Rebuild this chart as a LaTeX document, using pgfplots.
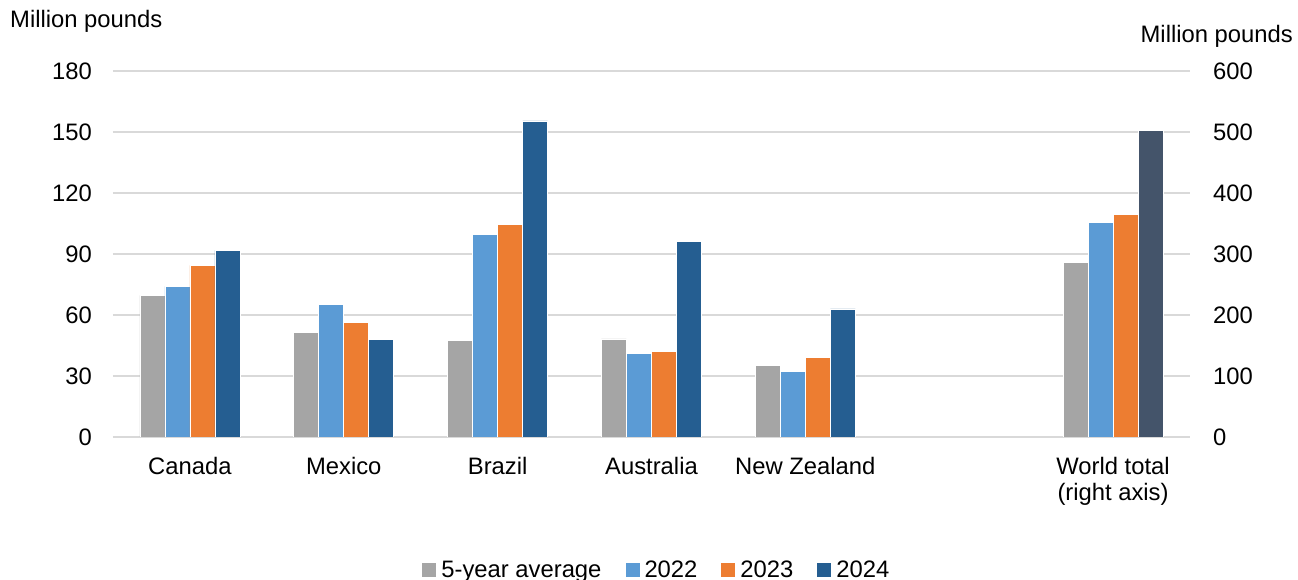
\documentclass[border=0pt]{standalone}
\usepackage{pgfplots}
\pgfplotsset{compat=1.18}
\usepackage{fontspec}
\setmainfont{Liberation Sans}
\definecolor{cgray}{HTML}{A5A5A5}
\definecolor{clblue}{HTML}{5B9BD5}
\definecolor{corange}{HTML}{ED7D31}
\definecolor{cdblue}{HTML}{255E91}
\definecolor{cslate}{HTML}{44546A}
\definecolor{gridc}{HTML}{D9D9D9}
\newcommand{\chartfont}{\fontsize{23.8}{26}\selectfont}
\pgfplotsset{
  common/.style={
    scale only axis, width=1077pt, height=366pt,
    at={(0,0)}, anchor=south west,
    xmin=-0.5, xmax=6.5,
    ybar=0pt, bar width=25pt,
    axis line style={draw=none},
    major tick length=0pt,
    font=\chartfont,
    /pgf/number format/assume math mode=true,
    every axis plot/.append style={draw=white, line width=0.6pt},
  }
}
\begin{document}
\begin{tikzpicture}
\begin{axis}[common,
  ymin=0, ymax=180, ytick={0,30,...,180},
  yticklabel pos=left,
  yticklabel style={inner sep=0pt, xshift=-21pt},
  ymajorgrids, grid style={draw=gridc, line width=1.3pt},
  xtick={0,1,2,3,4,6},
  xticklabels={Canada,Mexico,Brazil,Australia,New Zealand,{World total\\(right axis)}},
  xticklabel style={inner sep=0pt, yshift=-20pt, align=center, font=\chartfont},
  legend columns=4,
  legend style={draw=none, at={(0.505,-0.3634)}, anchor=center, font=\chartfont,
    /tikz/every odd column/.append style={column sep=3pt},
    /tikz/every even column/.append style={column sep=22pt}},
  legend image code/.code={\fill[#1, draw=none] (0pt,-7pt) rectangle (14pt,7pt);},
]
\addplot[fill=cgray] coordinates {(0,69.7) (1,51.4) (2,47.6) (3,48.2) (4,35.4)};
\addplot[fill=clblue] coordinates {(0,74.1) (1,65.3) (2,99.7) (3,41.0) (4,32.3)};
\addplot[fill=corange] coordinates {(0,84.4) (1,56.2) (2,104.6) (3,42.2) (4,39.0)};
\addplot[fill=cdblue] coordinates {(0,91.8) (1,47.9) (2,155.5) (3,96.3) (4,63.0)};
\legend{5-year average,2022,2023,2024}
\end{axis}
\begin{axis}[common,
  ymin=0, ymax=600, ytick={0,100,...,600},
  yticklabel pos=right,
  yticklabel style={inner sep=0pt, xshift=23pt},
  xtick=\empty, hide x axis,
]
\addplot[fill=cgray] coordinates {(6,286)};
\addplot[fill=clblue] coordinates {(6,352)};
\addplot[fill=corange] coordinates {(6,365.6)};
\addplot[fill=cslate] coordinates {(6,503)};
\end{axis}
\node[anchor=base west, inner sep=0pt, font=\chartfont] at (-103pt,409pt) {Million pounds};
\node[anchor=base east, inner sep=0pt, font=\chartfont] at (1180pt,394pt) {Million pounds};
\pgfresetboundingbox
\path[use as bounding box] (-113pt,-143pt) rectangle (1185pt,437pt);
\end{tikzpicture}
\end{document}
